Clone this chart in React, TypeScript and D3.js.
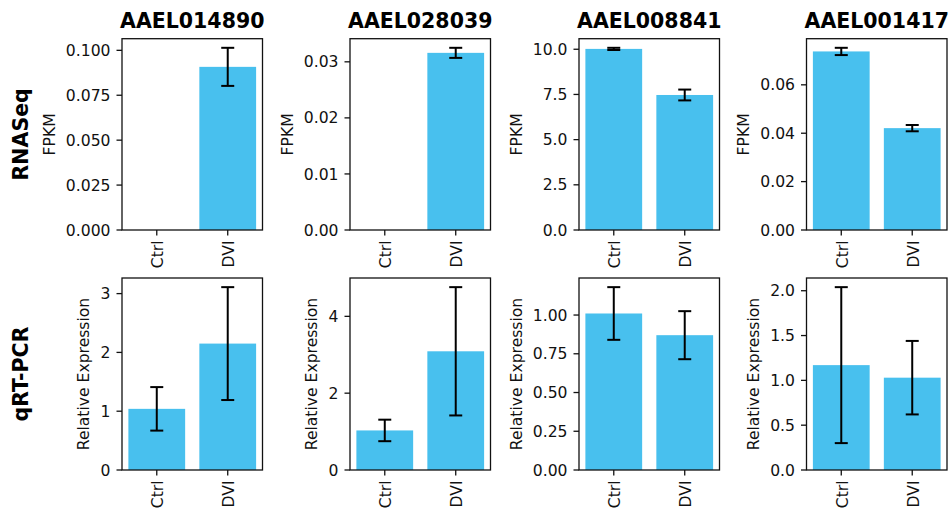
import React, { useEffect, useRef } from "react";
import * as d3 from "d3";

const genes = ["AAEL014890", "AAEL028039", "AAEL008841", "AAEL001417"];
const groups = ["Ctrl", "DVI"];
const rowLabels = ["RNASeq", "qRT-PCR"];
const yLabels = ["FPKM", "Relative Expression"];

const rnaMean = [[0, 0.0908], [0, 0.0316], [10.02, 7.47], [0.0738, 0.0421]];
const rnaErr = [[0, 0.0106], [0, 0.0009], [0.06, 0.3], [0.0015, 0.0013]];
const pcrMean = [[1.04, 2.15], [1.03, 3.09], [1.01, 0.87], [1.17, 1.03]];
const pcrErr = [[0.37, 0.96], [0.28, 1.67], [0.17, 0.155], [0.87, 0.41]];

const rnaTicks = [
  [0, 0.025, 0.05, 0.075, 0.1],
  [0, 0.01, 0.02, 0.03],
  [0, 2.5, 5, 7.5, 10],
  [0, 0.02, 0.04, 0.06],
];
const rnaDecimals = [3, 2, 1, 2];
const pcrTicks = [
  [0, 1, 2, 3],
  [0, 2, 4],
  [0, 0.25, 0.5, 0.75, 1],
  [0, 0.5, 1, 1.5, 2],
];
const pcrDecimals = [0, 0, 2, 1];

const W = 952;
const H = 508;
const colLeft = [122, 350, 579, 806.5];
const axW = 140.5;
const rowTop = [38.7, 278];
const rowBottom = [230, 470];
const BAR = "#48C0EE";
const FONT = "DejaVu Sans, sans-serif";
const FS = 15.6;

export default function App() {
  const ref = useRef<SVGSVGElement>(null);

  useEffect(() => {
    const svg = d3.select(ref.current);
    svg.selectAll("*").remove();
    svg.append("rect").attr("width", W).attr("height", H).attr("fill", "#fff");

    const rows = [
      { mean: rnaMean, err: rnaErr, ticks: rnaTicks, dec: rnaDecimals },
      { mean: pcrMean, err: pcrErr, ticks: pcrTicks, dec: pcrDecimals },
    ];

    rows.forEach((row, r) => {
      const top = rowTop[r];
      const bottom = rowBottom[r];
      // row label
      svg
        .append("text")
        .attr("transform", `translate(28,${(top + bottom) / 2}) rotate(-90)`)
        .attr("text-anchor", "middle")
        .attr("font-family", FONT)
        .attr("font-weight", "bold")
        .attr("font-size", 20.5)
        .attr("fill", "#000")
        .text(rowLabels[r]);

      genes.forEach((gene, c) => {
        const left = colLeft[c];
        const means = row.mean[c];
        const errs = row.err[c];
        const dmax = d3.max(means.map((m, i) => m + errs[i])) as number;
        const y = d3.scaleLinear().domain([0, dmax * 1.05]).range([bottom, top]);
        const x = d3.scaleLinear().domain([-0.49, 1.49]).range([left, left + axW]);
        const g = svg.append("g");

        // bars
        g.selectAll("rect.bar")
          .data(means)
          .enter()
          .append("rect")
          .attr("x", (_d, i) => x(i - 0.4))
          .attr("width", x(0.4) - x(-0.4))
          .attr("y", (d) => y(d))
          .attr("height", (d) => bottom - y(d))
          .attr("fill", BAR);

        // error bars
        means.forEach((m, i) => {
          const e = errs[i];
          if (e <= 0) return;
          const cx = x(i);
          const eb = g.append("g").attr("stroke", "#000").attr("stroke-width", 2);
          eb.append("line").attr("x1", cx).attr("x2", cx).attr("y1", y(m - e)).attr("y2", y(m + e));
          [m - e, m + e].forEach((v) => {
            eb.append("line").attr("x1", cx - 6.5).attr("x2", cx + 6.5).attr("y1", y(v)).attr("y2", y(v));
          });
        });

        // spines
        g.append("rect")
          .attr("x", left)
          .attr("y", top)
          .attr("width", axW)
          .attr("height", bottom - top)
          .attr("fill", "none")
          .attr("stroke", "#111")
          .attr("stroke-width", 1.3);

        // y ticks
        let minX = Infinity;
        row.ticks[c].forEach((t) => {
          const ty = y(t);
          g.append("line")
            .attr("x1", left - 5.5)
            .attr("x2", left)
            .attr("y1", ty)
            .attr("y2", ty)
            .attr("stroke", "#111")
            .attr("stroke-width", 1.3);
          const tx = g
            .append("text")
            .attr("x", left - 11.5)
            .attr("y", ty)
            .attr("dy", "0.36em")
            .attr("text-anchor", "end")
            .attr("font-family", FONT)
            .attr("font-size", FS)
            .attr("fill", "#111")
            .text(d3.format(`.${row.dec[c]}f`)(t));
          const bb = (tx.node() as SVGTextElement).getBBox();
          minX = Math.min(minX, bb.x);
        });

        // x ticks
        groups.forEach((grp, i) => {
          const cx = x(i);
          g.append("line")
            .attr("x1", cx)
            .attr("x2", cx)
            .attr("y1", bottom)
            .attr("y2", bottom + 5.5)
            .attr("stroke", "#111")
            .attr("stroke-width", 1.3);
          g.append("text")
            .attr("transform", `translate(${cx},${bottom + 10.5}) rotate(-90)`)
            .attr("dy", "0.42em")
            .attr("text-anchor", "end")
            .attr("font-family", FONT)
            .attr("font-size", FS)
            .attr("fill", "#111")
            .text(grp);
        });

        // y label
        const lx = minX - 7.5 - 0.24 * FS;
        g.append("text")
          .attr("transform", `translate(${lx},${(top + bottom) / 2}) rotate(-90)`)
          .attr("text-anchor", "middle")
          .attr("font-family", FONT)
          .attr("font-size", FS)
          .attr("fill", "#111")
          .text(yLabels[r]);

        // title
        if (r === 0) {
          svg
            .append("text")
            .attr("x", left + axW / 2)
            .attr("y", 28)
            .attr("text-anchor", "middle")
            .attr("font-family", FONT)
            .attr("font-weight", "bold")
            .attr("font-size", 20.5)
            .attr("fill", "#000")
            .text(gene);
        }
      });
    });
  }, []);

  return (
    <svg
      ref={ref}
      width={W}
      height={H}
      style={{ position: "absolute", left: 0, top: 0 }}
    />
  );
}
